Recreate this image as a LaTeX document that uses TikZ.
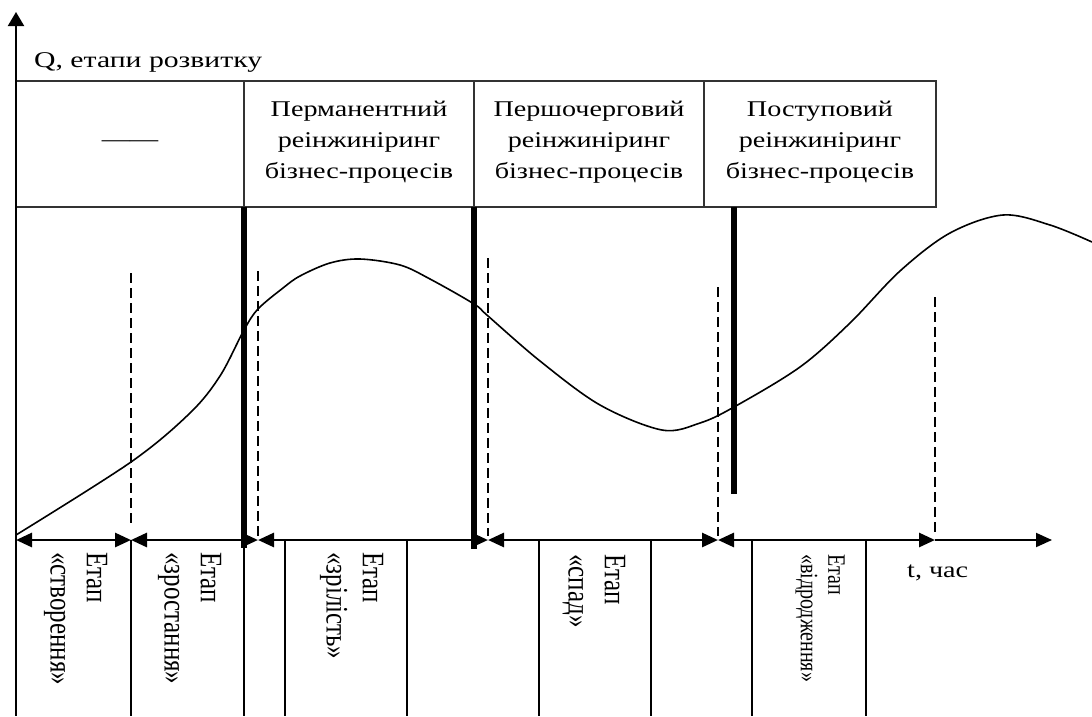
\documentclass[tikz,border=0pt]{standalone}
\usepackage{fontspec}
\setmainfont{Liberation Serif}
\usepackage{graphicx}
\usetikzlibrary{arrows.meta}

% widened horizontal text / text widened across its lines when set upright-rotated
\newcommand{\wtext}[1]{\scalebox{1.25}[1]{#1}}
\newcommand{\vtext}[1]{\scalebox{1}[1.25]{#1}}

\begin{document}
\begin{tikzpicture}[x=1pt,y=-1pt,
  >={Triangle[length=16pt,width=14pt]},
  frame/.style={line width=1.2pt, draw=black!80},
  grid/.style={line width=1.2pt},
  reeng/.style={line width=6.8pt},
  phase/.style={line width=2.6pt, dash pattern=on 10pt off 5pt},
  stage/.style={line width=2.8pt, <->},
  curve/.style={line width=1.6pt},
  axis/.style={line width=2pt},
  lbl/.style={font=\fontsize{22.5}{31}\selectfont, inner sep=0pt},
  vlbl/.style={font=\fontsize{25}{29}\selectfont, inner sep=0pt, rotate=-90, anchor=west},
  vlblsmall/.style={font=\fontsize{20}{22}\selectfont, inner sep=0pt, rotate=-90, anchor=west}
]
\useasboundingbox[fill=white] (0,0) rectangle (1092,716);

% key points
\coordinate (O) at (16,540);
\coordinate (ytop) at (16,12);
\coordinate (ybot) at (16,716);
\coordinate (xend) at (1052,540);
\coordinate (b1) at (131,540);
\coordinate (b2) at (258,540);
\coordinate (b3) at (488,540);
\coordinate (b4) at (718,540);
\coordinate (b5) at (935,540);

% header row of reengineering types
\draw[frame] (16,81) rectangle (936,207);
\foreach \x in {244,474,704} \draw[frame] (\x,81) -- (\x,207);

\node[lbl, anchor=base] (dash0) at (130,146) {\wtext{——}};
\node[lbl] (perm) at (359,141) {\wtext{\begin{tabular}{@{}c@{}}Перманентний\\реінжиніринг\\бізнес-процесів\end{tabular}}};
\node[lbl] (persh) at (589,141) {\wtext{\begin{tabular}{@{}c@{}}Першочерговий\\реінжиніринг\\бізнес-процесів\end{tabular}}};
\node[lbl] (post) at (820,141) {\wtext{\begin{tabular}{@{}c@{}}Поступовий\\реінжиніринг\\бізнес-процесів\end{tabular}}};

% cells under the time axis
\foreach \x in {131,244,285,407,539,651,752,866} \draw[grid] (\x,540) -- (\x,716);

% life-cycle curve
\draw[curve] plot[smooth, tension=0.55] coordinates {
  (16,535) (131,462) (190,413) (220,376) (244,330) (258,309)
  (283,288) (300,276) (330,263) (360,259) (400,265) (430,279) (474,304)
  (488,316) (540,361) (600,405) (662,430) (700,423) (734,407) (800,367)
  (850,323) (900,271) (950,233) (1003,215) (1050,225) (1092,242)};

% stage boundaries
\draw[phase] (131,273) -- (131,527);
\draw[phase] (258,271) -- (258,536);
\draw[phase] (488,258) -- (488,536);
\draw[phase] (718,287) -- (718,536);
\draw[phase] (935,297) -- (935,533);

% moments of reengineering
\draw[reeng] (244,207) -- (244,548);
\draw[reeng] (474,207) -- (474,549);
\draw[reeng] (734,207) -- (734,494);

% axes
\draw[axis, ->, {Triangle[length=14pt,width=16pt]}-] (ytop) -- (ybot);
\draw[axis, ->] (b5) -- (xend);

% stage spans
\draw[stage] (O) -- (b1);
\draw[stage] (b1) -- (b2);
\draw[stage] (b2) -- (b3);
\draw[stage] (b3) -- (b4);
\draw[stage] (b4) -- (b5);

% axis captions
\node[lbl, anchor=base west] (qlab) at (34,67) {\scalebox{1.32}[1]{Q, етапи розвитку}};
\node[lbl, anchor=base west] (tlab) at (907,577) {\wtext{t, час}};

% stage names
\node[vlbl] (s1) at (76,552) {\vtext{\begin{tabular}{@{}l@{}}Етап\\«створення»\end{tabular}}};
\node[vlbl] (s2) at (190,552) {\vtext{\begin{tabular}{@{}l@{}}Етап\\«зростання»\end{tabular}}};
\node[vlbl] (s3) at (352,552) {\vtext{\begin{tabular}{@{}l@{}}Етап\\«зрілість»\end{tabular}}};
\node[vlbl] (s4) at (594,554) {\vtext{\begin{tabular}{@{}l@{}}Етап\\«спад»\end{tabular}}};
\node[vlblsmall] (s5) at (820,554) {\vtext{\begin{tabular}{@{}l@{}}Етап\\«відродження»\end{tabular}}};
\end{tikzpicture}
\end{document}
